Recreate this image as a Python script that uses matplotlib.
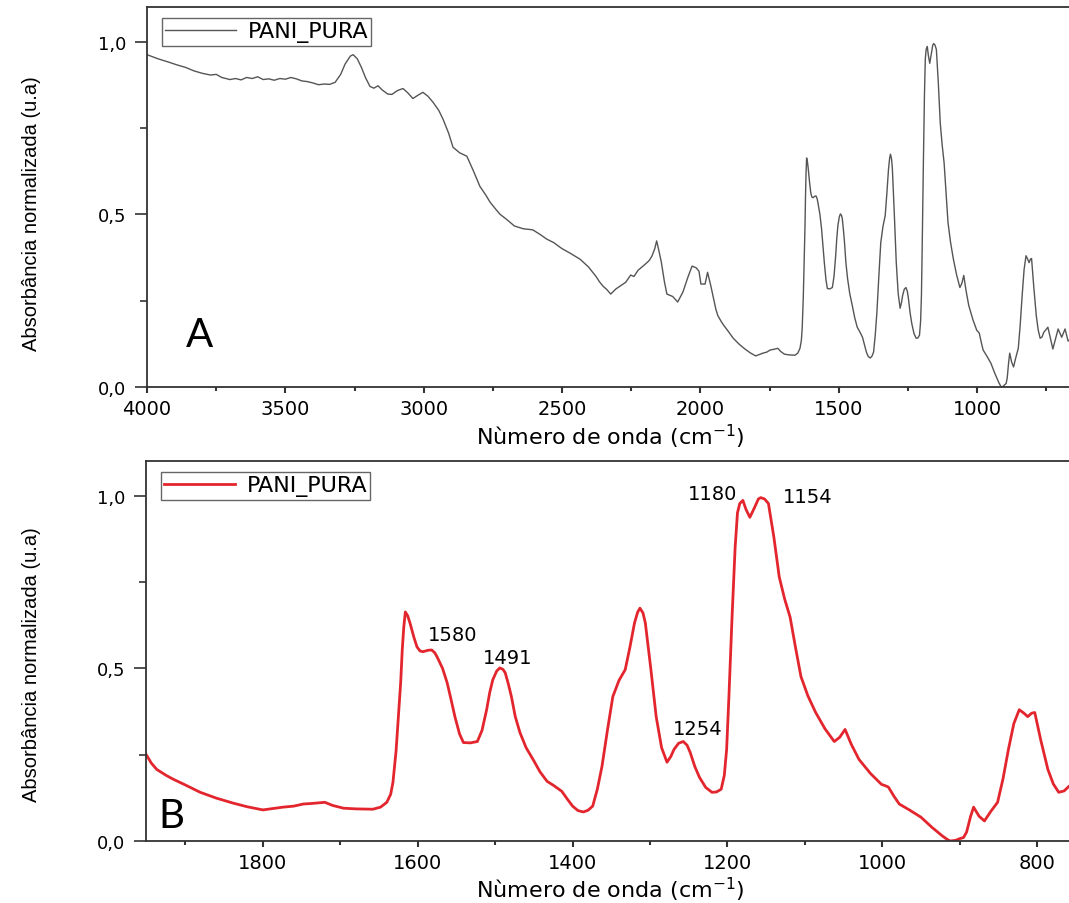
import numpy as np
import matplotlib
matplotlib.use('Agg')
import matplotlib.pyplot as plt
from matplotlib.ticker import FuncFormatter, MultipleLocator

# FTIR spectrum of PANI_PURA (wavenumber in cm-1, normalised absorbance)
wavenumber = [
    4000, 3960, 3920, 3890, 3860, 3830, 3800, 3770, 3750, 3730, 3700, 3680, 3660, 3640, 3620,
    3600, 3580, 3560, 3540, 3520, 3500, 3480, 3460, 3440, 3420, 3400, 3380, 3360, 3340, 3320,
    3300, 3284, 3265, 3255, 3240, 3225, 3210, 3194, 3180, 3165, 3150, 3130, 3115, 3095, 3075,
    3058, 3039, 3020, 3003, 2985, 2966, 2945, 2930, 2910, 2894, 2870, 2844, 2820, 2797, 2775,
    2760, 2740, 2724, 2700, 2672, 2640, 2606, 2580, 2555, 2530, 2501, 2470, 2435, 2405, 2378,
    2365, 2352, 2338, 2324, 2305, 2290, 2270, 2252, 2240, 2225, 2200, 2185, 2175, 2165, 2158,
    2150, 2141, 2130, 2121, 2100, 2082, 2063, 2045, 2030, 2015, 2005, 1998, 1983, 1974, 1962,
    1951, 1944, 1937, 1925, 1916, 1900, 1881, 1860, 1839, 1820, 1800, 1787, 1774, 1760, 1748,
    1735, 1720, 1710, 1696, 1680, 1658, 1648, 1640, 1635, 1632, 1628, 1625, 1622, 1620, 1618,
    1616, 1613, 1610, 1605, 1601, 1597, 1593, 1587, 1582, 1578, 1575, 1568, 1562, 1557, 1552,
    1546, 1541, 1532, 1523, 1517, 1511, 1507, 1503, 1498, 1494, 1490, 1487, 1483, 1479, 1474,
    1468, 1460, 1451, 1442, 1433, 1424, 1414, 1407, 1400, 1393, 1386, 1380, 1374, 1368, 1362,
    1355, 1348, 1340, 1332, 1326, 1320, 1316, 1313, 1309, 1306, 1299, 1292, 1285, 1278, 1273,
    1269, 1263, 1257, 1252, 1248, 1242, 1236, 1228, 1220, 1214, 1208, 1204, 1201, 1198, 1194,
    1190, 1187, 1184, 1180, 1176, 1171, 1165, 1160, 1157, 1152, 1147, 1140, 1133, 1126, 1119,
    1112, 1105, 1096, 1086, 1074, 1062, 1055, 1048, 1040, 1030, 1015, 1001, 996, 992, 985,
    978, 965, 950, 936, 922, 915, 912, 905, 901, 895, 891, 886, 882, 875, 868,
    860, 851, 844, 837, 830, 823, 817, 812, 807, 803, 795, 786, 779, 772, 765,
    759, 744, 726, 707, 694, 682, 671, 660,
]
absorbance = [
    0.962, 0.950, 0.940, 0.932, 0.925, 0.915, 0.908, 0.903, 0.905, 0.896, 0.890, 0.893, 0.889, 0.896, 0.893,
    0.898, 0.890, 0.892, 0.888, 0.893, 0.891, 0.896, 0.892, 0.886, 0.884, 0.880, 0.875, 0.877, 0.876, 0.882,
    0.905, 0.935, 0.958, 0.962, 0.950, 0.925, 0.895, 0.870, 0.865, 0.872, 0.860, 0.848, 0.847, 0.858, 0.864,
    0.852, 0.835, 0.845, 0.853, 0.842, 0.824, 0.800, 0.775, 0.735, 0.694, 0.678, 0.668, 0.625, 0.581, 0.555,
    0.535, 0.515, 0.500, 0.485, 0.466, 0.458, 0.455, 0.442, 0.428, 0.418, 0.401, 0.387, 0.370, 0.348, 0.321,
    0.305, 0.292, 0.282, 0.269, 0.284, 0.292, 0.303, 0.324, 0.320, 0.338, 0.355, 0.366, 0.379, 0.400, 0.423,
    0.395, 0.361, 0.305, 0.269, 0.262, 0.246, 0.275, 0.318, 0.350, 0.345, 0.335, 0.298, 0.298, 0.332, 0.292,
    0.251, 0.225, 0.207, 0.190, 0.179, 0.162, 0.141, 0.124, 0.110, 0.099, 0.090, 0.094, 0.098, 0.101, 0.107,
    0.109, 0.112, 0.103, 0.095, 0.093, 0.092, 0.098, 0.112, 0.135, 0.170, 0.260, 0.360, 0.460, 0.553, 0.620,
    0.663, 0.652, 0.631, 0.590, 0.562, 0.550, 0.548, 0.552, 0.553, 0.545, 0.533, 0.500, 0.458, 0.410, 0.360,
    0.310, 0.285, 0.284, 0.288, 0.320, 0.380, 0.430, 0.467, 0.492, 0.501, 0.497, 0.487, 0.455, 0.418, 0.360,
    0.314, 0.270, 0.236, 0.200, 0.173, 0.160, 0.144, 0.122, 0.101, 0.088, 0.084, 0.089, 0.101, 0.150, 0.216,
    0.320, 0.418, 0.465, 0.496, 0.560, 0.631, 0.662, 0.674, 0.660, 0.631, 0.500, 0.360, 0.270, 0.228, 0.245,
    0.265, 0.283, 0.288, 0.277, 0.256, 0.215, 0.184, 0.155, 0.141, 0.142, 0.150, 0.190, 0.265, 0.420, 0.648,
    0.850, 0.950, 0.977, 0.986, 0.960, 0.937, 0.965, 0.990, 0.994, 0.990, 0.977, 0.880, 0.764, 0.700, 0.648,
    0.560, 0.476, 0.420, 0.372, 0.325, 0.288, 0.300, 0.323, 0.280, 0.236, 0.195, 0.164, 0.160, 0.156, 0.130,
    0.107, 0.090, 0.069, 0.040, 0.014, 0.003, 0.000, 0.002, 0.006, 0.010, 0.026, 0.070, 0.098, 0.072, 0.058,
    0.085, 0.112, 0.180, 0.265, 0.340, 0.380, 0.370, 0.360, 0.370, 0.372, 0.290, 0.207, 0.165, 0.141, 0.145,
    0.158, 0.173, 0.110, 0.168, 0.144, 0.168, 0.133, 0.140,
]

# labelled bands in panel B
peak_labels = ['1580', '1491', '1254', '1180', '1154']
peak_wn = [1580, 1491, 1254, 1180, 1154]

wn = np.array(wavenumber)
ab = np.array(absorbance)

comma = FuncFormatter(lambda v, p: f'{v:.1f}'.replace('.', ','))
spine_c = '#333333'

fig = plt.figure(figsize=(10.69, 9.04), dpi=100)
W, H = 1069.0, 904.0
axA = fig.add_axes([147 / W, (H - 388) / H, (1075 - 147) / W, 380 / H])
axB = fig.add_axes([146 / W, (H - 842) / H, (1075 - 146) / W, 380 / H])


def style(ax, xmaj, xmin):
    for s in ax.spines.values():
        s.set_color(spine_c)
        s.set_linewidth(1.3)
    ax.set_ylim(0, 1.1)
    ax.yaxis.set_major_locator(MultipleLocator(0.5))
    ax.yaxis.set_minor_locator(MultipleLocator(0.25))
    ax.yaxis.set_major_formatter(comma)
    ax.xaxis.set_major_locator(MultipleLocator(xmaj))
    ax.xaxis.set_minor_locator(MultipleLocator(xmin))
    ax.tick_params(axis='y', which='major', direction='out', length=9, width=1.2,
                   color=spine_c, labelsize=13, pad=6)
    ax.tick_params(axis='y', which='minor', direction='out', length=5, width=1.2, color=spine_c)
    ax.tick_params(axis='x', which='major', direction='out', length=4.5, width=1.5,
                   color=spine_c, labelsize=14, pad=4)
    ax.tick_params(axis='x', which='minor', direction='out', length=3, width=1.5, color=spine_c)
    ax.tick_params(top=False, right=False)
    ax.set_xlabel('Nùmero de onda (cm$^{-1}$)', fontsize=16, va='center')
    ax.set_ylabel('Absorbância normalizada (u.a)', fontsize=14.5, va='center',
                  family='Liberation Sans')


def legend(ax):
    leg = ax.legend(loc='upper left', bbox_to_anchor=(0.016, 0.971), borderaxespad=0,
                    fancybox=False, edgecolor='#666666', framealpha=1, fontsize=16,
                    handlelength=3.2, handletextpad=0.5, borderpad=0.15)
    leg.get_frame().set_linewidth(1.0)


# Panel A: full range
axA.plot(wn, ab, color='#555555', lw=1.0, label='PANI_PURA', solid_joinstyle='round')
axA.set_xlim(4000, 646)
style(axA, 500, 250)
axA.xaxis.set_label_coords(0.499, -0.129)
axA.yaxis.set_label_coords(-0.124, 0.458)
axA.text(0.057, 0.139, 'A', transform=axA.transAxes, fontsize=29, family='Lato',
         ha='center', va='center')
legend(axA)

# Panel B: fingerprint region
axB.plot(wn, ab, color='#e3262e', lw=2.0, label='PANI_PURA', solid_joinstyle='round')
axB.set_xlim(1951, 751)
style(axB, 200, 100)
axB.xaxis.set_label_coords(0.4995, -0.126)
axB.yaxis.set_label_coords(-0.123, 0.466)
axB.text(0.027, 0.068, 'B', transform=axB.transAxes, fontsize=29, family='Lato',
         ha='center', va='center')
legend(axB)

offsets = [(14, 12), (4, 8), (9, 11), (-22, 5), (32, 1.5)]
for lab, p, off in zip(peak_labels, peak_wn, offsets):
    y = np.interp(p, wn[::-1], ab[::-1])
    axB.annotate(lab, xy=(p, y), xytext=off, textcoords='offset points',
                 ha='center', va='center', fontsize=14)

fig.savefig('out.png', dpi=100)
